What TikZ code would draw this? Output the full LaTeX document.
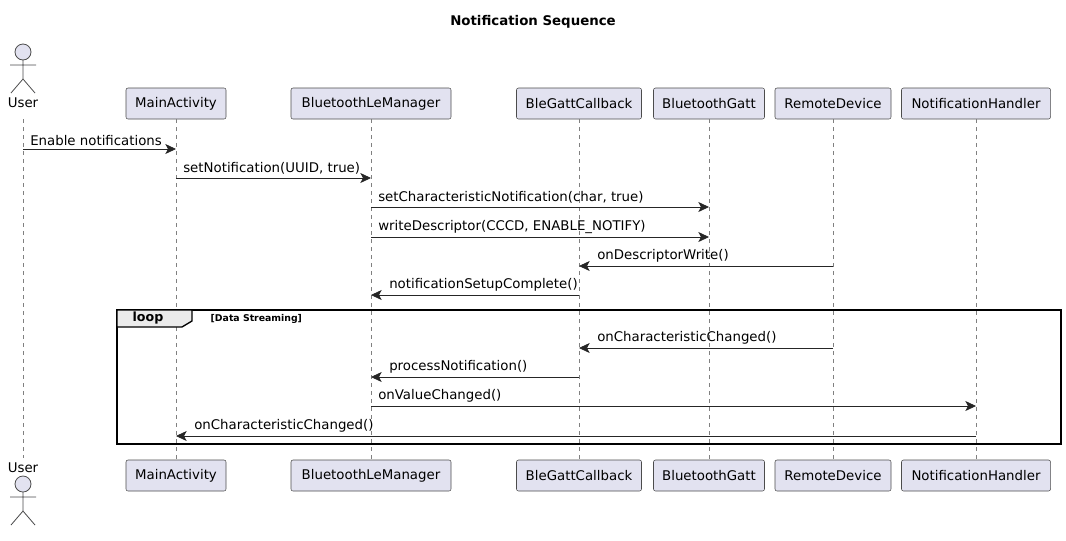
\documentclass[tikz,border=0pt]{standalone}
\usepackage{fontspec}
\setmainfont{DejaVu Sans}
\usetikzlibrary{arrows.meta}
\definecolor{pfill}{RGB}{226,226,240}
\begin{document}
\begin{tikzpicture}[x=0.75pt,y=-0.75pt,
  part/.style={draw=black!70,fill=pfill,rounded corners=1.5pt,minimum height=23.25pt,inner sep=0pt,font=\fontsize{10}{12}\selectfont},
  life/.style={draw=black!50,dash pattern=on 3pt off 3pt,line width=0.4pt},
  msg/.style={draw=black!85,line width=0.6pt,-{Stealth[length=8pt,width=7.5pt,inset=2pt]}},
  lbl/.style={font=\fontsize{10}{12}\selectfont,anchor=south west,inner sep=1.5pt},
  actor/.style={draw=black!70,fill=pfill,line width=0.6pt}]
\useasboundingbox (0,0) rectangle (1066,540);
\node[font=\bfseries\fontsize{10}{12}\selectfont] (title) at (533,22) {Notification Sequence};
% participants
\foreach \n/\x/\w/\t in {ma/176/100/MainActivity, blm/371/160/BluetoothLeManager, bgc/579/125/BleGattCallback, bg/709/111/BluetoothGatt, rd/833/116/RemoteDevice, nh/976/149/NotificationHandler}{
  \node[part,minimum width=\w*0.75pt] (\n T) at (\x,103.5) {\t};
  \node[part,minimum width=\w*0.75pt] (\n B) at (\x,475.5) {\t};
  \draw[life] (\n T.south) -- (\n B.north);
}
% actor
\coordinate (uT) at (23,119); \coordinate (uB) at (23,458);
\draw[life] (uT) -- (uB);
\node[font=\fontsize{10}{12}\selectfont] (ul1) at (23,103) {User};
\node[font=\fontsize{10}{12}\selectfont] (ul2) at (23,468) {User};
\foreach \y in {52,484}{
  \draw[actor] (23,\y) circle (8);
  \draw[actor] (23,\y+8) -- (23,\y+27) (10,\y+13) -- (36,\y+13) (23,\y+27) -- (11,\y+41) (23,\y+27) -- (35,\y+41);
}
% loop
\draw[line width=1pt] (117,310) rectangle (1061,444);
\draw[line width=1pt,fill=black!8] (117,310) -- (192,310) -- (192,321) -- (182,327) -- (117,327) -- cycle;
\node[font=\bfseries\fontsize{9.5}{11}\selectfont] (lp) at (148,318) {loop};
\node[font=\bfseries\fontsize{7}{8}\selectfont,anchor=west] (ld) at (206,319) {[Data Streaming]};
% messages
\foreach \a/\b/\y/\t/\lx in {uT/maT/149/Enable notifications/23, maT/blmT/178/{setNotification(UUID, true)}/176, blmT/bgT/207/{setCharacteristicNotification(char, true)}/371, blmT/bgT/237/{writeDescriptor(CCCD, ENABLE\_NOTIFY)}/371, rdT/bgcT/266/onDescriptorWrite()/590, bgcT/blmT/295/notificationSetupComplete()/382, rdT/bgcT/348/onCharacteristicChanged()/590, bgcT/blmT/377/processNotification()/382, blmT/nhT/406/onValueChanged()/371, nhT/maT/436/onCharacteristicChanged()/187}{
  \draw[msg] (\a |- 0,\y) -- (\b |- 0,\y);
  \node[lbl] at (\lx+5,\y-1.5) {\t};
}
\end{tikzpicture}
\end{document}
